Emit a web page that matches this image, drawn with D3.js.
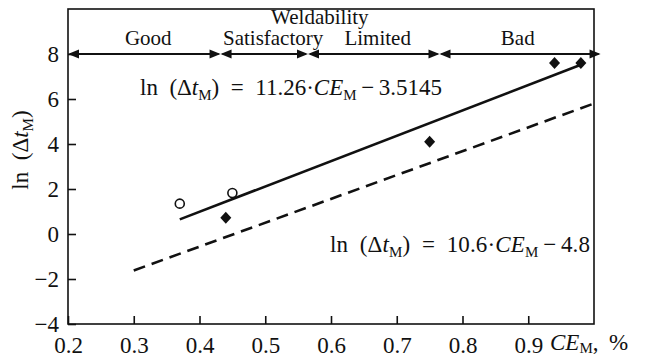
<!DOCTYPE html>
<html>
<head>
<meta charset="utf-8">
<script src="https://cdn.jsdelivr.net/npm/d3@7/dist/d3.min.js"></script>
<style>
  body { margin: 0; background: #fff; }
</style>
</head>
<body>
<svg id="chart" width="646" height="358"></svg>
<script>
// values
const xTicks = [0.2, 0.3, 0.4, 0.5, 0.6, 0.7, 0.8, 0.9];
const yTicks = [-4, -2, 0, 2, 4, 6, 8];

const zoneNames = ["Good", "Satisfactory", "Limited", "Bad"];
const zoneEdges = [0.2, 0.432, 0.565, 0.765, 1.01];
const zoneLabelCE = [0.322, 0.512, 0.671, 0.884];
const zoneLevel = 8;

const circleCE = [0.37, 0.45];
const circleLn = [1.35, 1.82];

const diamondCE = [0.44, 0.75, 0.94, 0.98];
const diamondLn = [0.72, 4.1, 7.6, 7.6];

const solidCE = [0.37, 0.98];
const solidLn = [0.65, 7.52];

const dashedCE = [0.3, 1.0];
const dashedLn = [-1.62, 5.8];

const FONT = "'Liberation Serif', 'Times New Roman', Tinos, serif";
const margin = { top: 9, right: 52, bottom: 34, left: 68 };
const width = 646, height = 358;

const svg = d3.select("#chart")
    .attr("font-family", FONT)
    .style("font-family", FONT);

const x = d3.scaleLinear().domain([0.2, 1.0]).range([margin.left, width - margin.right]);
const y = d3.scaleLinear().domain([-4, 10]).range([height - margin.bottom, margin.top]);

// axes, ticks pointing inward
const xAxis = svg.append("g")
    .attr("transform", `translate(0,${y(-4)})`)
    .call(d3.axisBottom(x).tickValues(xTicks).tickSize(-8).tickPadding(13).tickFormat(d3.format(".1f")));
const yAxis = svg.append("g")
    .attr("transform", `translate(${x(0.2)},0)`)
    .call(d3.axisLeft(y).tickValues(yTicks).tickSize(-8).tickPadding(9));

[xAxis, yAxis].forEach(g => {
    g.attr("font-family", FONT).attr("font-size", 23);
    g.select(".domain").remove();
    g.selectAll(".tick line").attr("stroke", "#111").attr("stroke-width", 1.6);
    g.selectAll(".tick text").attr("fill", "#111");
});

// frame
svg.append("rect")
    .attr("x", x(0.2)).attr("y", y(10))
    .attr("width", x(1.0) - x(0.2)).attr("height", y(-4) - y(10))
    .attr("fill", "none").attr("stroke", "#111").attr("stroke-width", 1.6);

// weldability zones: double arrows
const arrowLen = 11, arrowHalf = 4.5;
const zoneG = svg.append("g");
zoneNames.forEach((name, i) => {
    const x0 = x(zoneEdges[i]), x1 = x(zoneEdges[i + 1]), yy = y(zoneLevel);
    zoneG.append("line")
        .attr("x1", x0 + 2).attr("x2", x1 - 2).attr("y1", yy).attr("y2", yy)
        .attr("stroke", "#111").attr("stroke-width", 1.8);
    zoneG.append("path")
        .attr("d", `M${x0},${yy}L${x0 + arrowLen},${yy - arrowHalf}L${x0 + arrowLen},${yy + arrowHalf}Z`)
        .attr("fill", "#111");
    zoneG.append("path")
        .attr("d", `M${x1},${yy}L${x1 - arrowLen},${yy - arrowHalf}L${x1 - arrowLen},${yy + arrowHalf}Z`)
        .attr("fill", "#111");
    zoneG.append("text")
        .attr("x", x(zoneLabelCE[i])).attr("y", 45)
        .attr("text-anchor", "middle")
        .attr("fill", "#111")
        .style("font-size", "21px")
        .text(name);
});
svg.append("text")
    .attr("x", x(0.583)).attr("y", 24)
    .attr("text-anchor", "middle")
    .attr("fill", "#111")
    .style("font-size", "21px")
    .text("Weldability");

// fit lines
const line = d3.line().x(d => x(d[0])).y(d => y(d[1]));
svg.append("path")
    .datum(d3.zip(solidCE, solidLn))
    .attr("d", line)
    .attr("fill", "none").attr("stroke", "#111").attr("stroke-width", 2.6);
svg.append("path")
    .datum(d3.zip(dashedCE, dashedLn))
    .attr("d", line)
    .attr("fill", "none").attr("stroke", "#111").attr("stroke-width", 2.6)
    .attr("stroke-dasharray", "12,7");

// points
svg.selectAll(".open")
    .data(d3.zip(circleCE, circleLn))
    .enter().append("circle")
    .attr("class", "open")
    .attr("cx", d => x(d[0])).attr("cy", d => y(d[1]))
    .attr("r", 4.5)
    .attr("fill", "#fff").attr("stroke", "#111").attr("stroke-width", 1.6);

svg.selectAll(".diamond")
    .data(d3.zip(diamondCE, diamondLn))
    .enter().append("path")
    .attr("class", "diamond")
    .attr("transform", d => `translate(${x(d[0])},${y(d[1])})`)
    .attr("d", "M0,-6L5.5,0L0,6L-5.5,0Z")
    .attr("fill", "#111");

// equation labels
function sub(t, s, dy = 5) {
    t.append("tspan").attr("dy", dy).style("font-size", "15px").text(s);
}
function equation(g, coef, rest) {
    g.append("tspan").text("ln\u2002(\u0394");
    g.append("tspan").style("font-style", "italic").text("t");
    sub(g, "M");
    g.append("tspan").attr("dy", -5).text(")\u2002=\u2002" + coef + "\u00b7");
    g.append("tspan").style("font-style", "italic").text("CE");
    sub(g, "M");
    g.append("tspan").attr("dy", -5).text("\u2009\u2212\u2009" + rest);
}
equation(svg.append("text").attr("x", 140).attr("y", 95).attr("fill", "#111")
    .attr("textLength", 302).attr("lengthAdjust", "spacing").style("font-size", "23px"), "11.26", "3.5145");
equation(svg.append("text").attr("x", 330).attr("y", 252).attr("fill", "#111")
    .attr("textLength", 260).attr("lengthAdjust", "spacing").style("font-size", "23px"), "10.6", "4.8");

// axis titles
const yTitle = svg.append("text")
    .attr("transform", "translate(28,150) rotate(-90)")
    .attr("text-anchor", "middle")
    .attr("fill", "#111")
    .style("font-size", "23px");
yTitle.append("tspan").text("ln\u2002(\u0394");
yTitle.append("tspan").style("font-style", "italic").text("t");
sub(yTitle, "M");
yTitle.append("tspan").attr("dy", -5).text(")");

const xTitle = svg.append("text")
    .attr("x", 550).attr("y", 350)
    .attr("fill", "#111")
    .style("font-size", "23px");
xTitle.append("tspan").style("font-style", "italic").text("CE");
sub(xTitle, "M", 3);
xTitle.append("tspan").attr("dy", -3).text(",");
xTitle.append("tspan").attr("x", 609).text("%");
</script>
</body>
</html>
